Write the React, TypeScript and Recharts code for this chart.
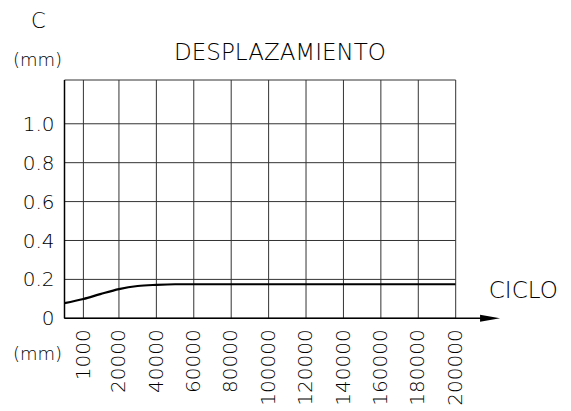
import React from "react";
import {
  LineChart,
  Line,
  XAxis,
  YAxis,
  CartesianGrid,
  ReferenceLine,
} from "recharts";

// cycles (first point sits on the y axis)
const cycles = [
  -9100, 1000, 10000, 20000, 30000, 40000, 50000, 60000, 80000, 100000,
  120000, 140000, 160000, 180000, 200000,
];
const displacement = [
  0.078, 0.099, 0.124, 0.15, 0.166, 0.172, 0.175, 0.175, 0.175, 0.175,
  0.175, 0.175, 0.175, 0.175, 0.175,
];
const xTicks = [
  1000, 20000, 40000, 60000, 80000, 100000, 120000, 140000, 160000, 180000,
  200000,
];
const yTicks = [0, 0.2, 0.4, 0.6, 0.8, 1.0];

const X_MIN = -9100;
const X_MAX = 200000;
const ARROW_END = 223700;
const Y_MAX = 1.225;

const FONT = "DejaVu Sans";
const WEIGHT = 200;

const data = cycles.map((c, i) => ({ ciclo: c, c: displacement[i] }));

const XTick = (props: any) => {
  const { x, y, payload } = props;
  return (
    <text
      x={x - 1}
      y={y}
      transform={`rotate(-90 ${x - 1} ${y})`}
      textAnchor="end"
      dy="0.36em"
      fill="#000"
      fontSize={20}
      fontFamily={FONT}
      fontWeight={WEIGHT}
    >
      {payload.value}
    </text>
  );
};

const ArrowLine = (props: any) => {
  const { x1, y1, x2, y2 } = props;
  return (
    <g>
      <line x1={x1} y1={y1} x2={x2 - 16} y2={y2} stroke="#000" strokeWidth={1.5} />
      <polygon
        points={`${x2 - 20},${y2 - 3.5} ${x2},${y2} ${x2 - 20},${y2 + 3.5}`}
        fill="#000"
      />
    </g>
  );
};

export default function App() {
  return (
    <div
      style={{
        position: "absolute",
        left: 0,
        top: 0,
        width: 571,
        height: 411,
        background: "#fff",
      }}
    >
      <LineChart
        width={571}
        height={411}
        data={data}
        margin={{ top: 80, right: 115.3, bottom: 0, left: 0 }}
      >
        <CartesianGrid stroke="#333" strokeWidth={1} />
        <XAxis
          dataKey="ciclo"
          type="number"
          domain={[X_MIN, X_MAX]}
          allowDataOverflow
          ticks={xTicks}
          interval={0}
          height={92.7}
          axisLine={false}
          tickLine={false}
          tickMargin={5}
          tick={<XTick />}
        />
        <YAxis
          type="number"
          domain={[0, Y_MAX]}
          allowDataOverflow
          ticks={yTicks}
          interval={0}
          width={64.5}
          axisLine={{ stroke: "#000", strokeWidth: 1.5 }}
          tickLine={false}
          tickMargin={4}
          tickFormatter={(v: number) => (v === 0 ? "0" : v.toFixed(1))}
          tick={{ fill: "#000", fontSize: 20, fontFamily: FONT, fontWeight: WEIGHT }}
        />
        <ReferenceLine
          segment={[
            { x: X_MIN, y: 0 },
            { x: ARROW_END, y: 0 },
          ]}
          ifOverflow="visible"
          shape={ArrowLine}
        />
        <Line
          dataKey="c"
          type="monotone"
          stroke="#000"
          strokeWidth={2.2}
          dot={false}
          isAnimationActive={false}
        />
      </LineChart>
      <svg
        width={571}
        height={411}
        style={{ position: "absolute", left: 0, top: 0, pointerEvents: "none" }}
        fontFamily={FONT}
        fontWeight={WEIGHT}
        fill="#000"
      >
        <text x={38.3} y={28.3} textAnchor="middle" fontSize={21}>
          C
        </text>
        <text x={37.5} y={65.5} textAnchor="middle" fontSize={18}>
          (mm)
        </text>
        <text x={280} y={60} textAnchor="middle" fontSize={23}>
          DESPLAZAMIENTO
        </text>
        <text x={523.3} y={298.3} textAnchor="middle" fontSize={23}>
          CICLO
        </text>
        <text x={37.5} y={360} textAnchor="middle" fontSize={18}>
          (mm)
        </text>
      </svg>
    </div>
  );
}
